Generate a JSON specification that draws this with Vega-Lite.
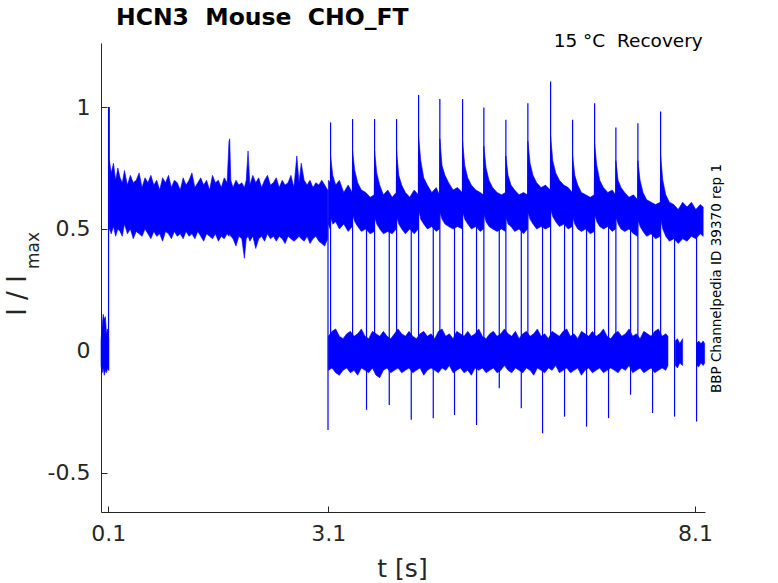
{
  "$schema": "https://vega.github.io/schema/vega-lite/v6.json",
  "width": 604,
  "height": 469,
  "autosize": {"type": "none"},
  "padding": {"left": 101, "top": 43, "right": 73, "bottom": 71},
  "background": "white",
  "config": {
    "view": {"stroke": null},
    "font": "DejaVu Sans",
    "axis": {
      "grid": false,
      "domainColor": "#262626",
      "tickColor": "#262626",
      "labelColor": "#262626",
      "titleColor": "#262626",
      "labelFont": "DejaVu Sans",
      "titleFont": "DejaVu Sans",
      "labelFontSize": 22,
      "titleFontWeight": "normal"
    }
  },
  "title": {
    "text": "HCN3\u00a0\u00a0Mouse\u00a0\u00a0CHO_FT",
    "anchor": "start",
    "dx": 112,
    "dy": 23,
    "offset": 6,
    "baseline": "alphabetic",
    "fontSize": 23.5,
    "fontWeight": "bold",
    "color": "#000000",
    "font": "DejaVu Sans"
  },
  "datasets": {
    "bands": [
      {"seg": "L0", "t": 0.0, "lo": -0.06, "hi": 0.04},
      {"seg": "L0", "t": 0.015, "lo": -0.09, "hi": 0.1},
      {"seg": "L0", "t": 0.03, "lo": -0.07, "hi": 0.15},
      {"seg": "L0", "t": 0.045, "lo": -0.1, "hi": 0.13},
      {"seg": "L0", "t": 0.06, "lo": -0.08, "hi": 0.14},
      {"seg": "L0", "t": 0.075, "lo": -0.09, "hi": 0.07},
      {"seg": "L0", "t": 0.09, "lo": -0.07, "hi": 0.09},
      {"seg": "L0", "t": 0.105, "lo": -0.08, "hi": 0.05},

      {"seg": "A", "t": 0.115, "lo": 0.5, "hi": 0.78},
      {"seg": "A", "t": 0.14, "lo": 0.48, "hi": 0.73},
      {"seg": "A", "t": 0.17, "lo": 0.51, "hi": 0.77},
      {"seg": "A", "t": 0.2, "lo": 0.47, "hi": 0.7},
      {"seg": "A", "t": 0.23, "lo": 0.5, "hi": 0.75},
      {"seg": "A", "t": 0.26, "lo": 0.49, "hi": 0.71},
      {"seg": "A", "t": 0.29, "lo": 0.47, "hi": 0.69},
      {"seg": "A", "t": 0.32, "lo": 0.52, "hi": 0.74},
      {"seg": "A", "t": 0.36, "lo": 0.48, "hi": 0.68},
      {"seg": "A", "t": 0.4, "lo": 0.5, "hi": 0.72},
      {"seg": "A", "t": 0.44, "lo": 0.46, "hi": 0.69},
      {"seg": "A", "t": 0.48, "lo": 0.49, "hi": 0.7},
      {"seg": "A", "t": 0.52, "lo": 0.48, "hi": 0.73},
      {"seg": "A", "t": 0.56, "lo": 0.47, "hi": 0.67},
      {"seg": "A", "t": 0.6, "lo": 0.5, "hi": 0.71},
      {"seg": "A", "t": 0.64, "lo": 0.48, "hi": 0.69},
      {"seg": "A", "t": 0.68, "lo": 0.46, "hi": 0.72},
      {"seg": "A", "t": 0.72, "lo": 0.49, "hi": 0.68},
      {"seg": "A", "t": 0.76, "lo": 0.47, "hi": 0.7},
      {"seg": "A", "t": 0.8, "lo": 0.48, "hi": 0.66},
      {"seg": "A", "t": 0.84, "lo": 0.45, "hi": 0.71},
      {"seg": "A", "t": 0.88, "lo": 0.49, "hi": 0.69},
      {"seg": "A", "t": 0.92, "lo": 0.48, "hi": 0.72},
      {"seg": "A", "t": 0.96, "lo": 0.46, "hi": 0.67},
      {"seg": "A", "t": 1.0, "lo": 0.49, "hi": 0.7},
      {"seg": "A", "t": 1.04, "lo": 0.47, "hi": 0.69},
      {"seg": "A", "t": 1.08, "lo": 0.48, "hi": 0.66},
      {"seg": "A", "t": 1.12, "lo": 0.46, "hi": 0.71},
      {"seg": "A", "t": 1.16, "lo": 0.49, "hi": 0.68},
      {"seg": "A", "t": 1.2, "lo": 0.47, "hi": 0.7},
      {"seg": "A", "t": 1.24, "lo": 0.48, "hi": 0.73},
      {"seg": "A", "t": 1.28, "lo": 0.46, "hi": 0.67},
      {"seg": "A", "t": 1.32, "lo": 0.49, "hi": 0.69},
      {"seg": "A", "t": 1.36, "lo": 0.47, "hi": 0.71},
      {"seg": "A", "t": 1.4, "lo": 0.45, "hi": 0.68},
      {"seg": "A", "t": 1.44, "lo": 0.48, "hi": 0.7},
      {"seg": "A", "t": 1.48, "lo": 0.47, "hi": 0.66},
      {"seg": "A", "t": 1.52, "lo": 0.46, "hi": 0.72},
      {"seg": "A", "t": 1.56, "lo": 0.48, "hi": 0.69},
      {"seg": "A", "t": 1.6, "lo": 0.45, "hi": 0.7},
      {"seg": "A", "t": 1.64, "lo": 0.47, "hi": 0.67},
      {"seg": "A", "t": 1.68, "lo": 0.46, "hi": 0.71},
      {"seg": "A", "t": 1.72, "lo": 0.48, "hi": 0.69},
      {"seg": "A", "t": 1.745, "lo": 0.47, "hi": 0.86},
      {"seg": "A", "t": 1.755, "lo": 0.48, "hi": 0.87},
      {"seg": "A", "t": 1.77, "lo": 0.47, "hi": 0.7},
      {"seg": "A", "t": 1.8, "lo": 0.46, "hi": 0.67},
      {"seg": "A", "t": 1.84, "lo": 0.43, "hi": 0.7},
      {"seg": "A", "t": 1.88, "lo": 0.47, "hi": 0.68},
      {"seg": "A", "t": 1.92, "lo": 0.46, "hi": 0.69},
      {"seg": "A", "t": 1.955, "lo": 0.38, "hi": 0.67},
      {"seg": "A", "t": 1.98, "lo": 0.46, "hi": 0.7},
      {"seg": "A", "t": 2.005, "lo": 0.47, "hi": 0.82},
      {"seg": "A", "t": 2.03, "lo": 0.45, "hi": 0.68},
      {"seg": "A", "t": 2.07, "lo": 0.47, "hi": 0.72},
      {"seg": "A", "t": 2.11, "lo": 0.42, "hi": 0.69},
      {"seg": "A", "t": 2.15, "lo": 0.46, "hi": 0.71},
      {"seg": "A", "t": 2.19, "lo": 0.47, "hi": 0.67},
      {"seg": "A", "t": 2.23, "lo": 0.45, "hi": 0.7},
      {"seg": "A", "t": 2.27, "lo": 0.48, "hi": 0.72},
      {"seg": "A", "t": 2.31, "lo": 0.46, "hi": 0.68},
      {"seg": "A", "t": 2.35, "lo": 0.47, "hi": 0.69},
      {"seg": "A", "t": 2.39, "lo": 0.45, "hi": 0.71},
      {"seg": "A", "t": 2.43, "lo": 0.47, "hi": 0.67},
      {"seg": "A", "t": 2.47, "lo": 0.46, "hi": 0.7},
      {"seg": "A", "t": 2.51, "lo": 0.44, "hi": 0.68},
      {"seg": "A", "t": 2.55, "lo": 0.47, "hi": 0.69},
      {"seg": "A", "t": 2.59, "lo": 0.46, "hi": 0.72},
      {"seg": "A", "t": 2.63, "lo": 0.45, "hi": 0.67},
      {"seg": "A", "t": 2.67, "lo": 0.46, "hi": 0.8},
      {"seg": "A", "t": 2.7, "lo": 0.47, "hi": 0.69},
      {"seg": "A", "t": 2.73, "lo": 0.46, "hi": 0.77},
      {"seg": "A", "t": 2.77, "lo": 0.45, "hi": 0.7},
      {"seg": "A", "t": 2.81, "lo": 0.47, "hi": 0.68},
      {"seg": "A", "t": 2.85, "lo": 0.44, "hi": 0.7},
      {"seg": "A", "t": 2.89, "lo": 0.46, "hi": 0.67},
      {"seg": "A", "t": 2.93, "lo": 0.47, "hi": 0.69},
      {"seg": "A", "t": 2.97, "lo": 0.45, "hi": 0.68},
      {"seg": "A", "t": 3.01, "lo": 0.44, "hi": 0.7},
      {"seg": "A", "t": 3.05, "lo": 0.43, "hi": 0.68},
      {"seg": "A", "t": 3.09, "lo": 0.46, "hi": 0.66},

      {"seg": "U", "t": 3.1, "lo": 0.52, "hi": 0.7},
      {"seg": "U", "t": 3.125, "lo": 0.5, "hi": 0.69},
      {"seg": "U", "t": 3.13, "lo": 0.55, "hi": 0.8},
      {"seg": "U", "t": 3.16, "lo": 0.52, "hi": 0.72},
      {"seg": "U", "t": 3.2, "lo": 0.53, "hi": 0.68},
      {"seg": "U", "t": 3.25, "lo": 0.5, "hi": 0.7},
      {"seg": "U", "t": 3.31, "lo": 0.52, "hi": 0.65},
      {"seg": "U", "t": 3.37, "lo": 0.49, "hi": 0.68},
      {"seg": "U", "t": 3.425, "lo": 0.51, "hi": 0.65},
      {"seg": "U", "t": 3.43, "lo": 0.56, "hi": 0.82},
      {"seg": "U", "t": 3.46, "lo": 0.53, "hi": 0.74},
      {"seg": "U", "t": 3.5, "lo": 0.51, "hi": 0.69},
      {"seg": "U", "t": 3.55, "lo": 0.49, "hi": 0.66},
      {"seg": "U", "t": 3.61, "lo": 0.5, "hi": 0.65},
      {"seg": "U", "t": 3.67, "lo": 0.48, "hi": 0.63},
      {"seg": "U", "t": 3.725, "lo": 0.49, "hi": 0.64},
      {"seg": "U", "t": 3.73, "lo": 0.55, "hi": 0.82},
      {"seg": "U", "t": 3.76, "lo": 0.52, "hi": 0.73},
      {"seg": "U", "t": 3.8, "lo": 0.5, "hi": 0.68},
      {"seg": "U", "t": 3.85, "lo": 0.48, "hi": 0.64},
      {"seg": "U", "t": 3.91, "lo": 0.49, "hi": 0.66},
      {"seg": "U", "t": 3.97, "lo": 0.48, "hi": 0.63},
      {"seg": "U", "t": 4.025, "lo": 0.5, "hi": 0.65},
      {"seg": "U", "t": 4.03, "lo": 0.55, "hi": 0.82},
      {"seg": "U", "t": 4.06, "lo": 0.52, "hi": 0.72},
      {"seg": "U", "t": 4.1, "lo": 0.5, "hi": 0.68},
      {"seg": "U", "t": 4.15, "lo": 0.48, "hi": 0.65},
      {"seg": "U", "t": 4.21, "lo": 0.5, "hi": 0.63},
      {"seg": "U", "t": 4.27, "lo": 0.48, "hi": 0.66},
      {"seg": "U", "t": 4.325, "lo": 0.5, "hi": 0.64},
      {"seg": "U", "t": 4.33, "lo": 0.58, "hi": 0.88},
      {"seg": "U", "t": 4.36, "lo": 0.54, "hi": 0.78},
      {"seg": "U", "t": 4.4, "lo": 0.52, "hi": 0.71},
      {"seg": "U", "t": 4.45, "lo": 0.5, "hi": 0.68},
      {"seg": "U", "t": 4.51, "lo": 0.51, "hi": 0.65},
      {"seg": "U", "t": 4.57, "lo": 0.49, "hi": 0.67},
      {"seg": "U", "t": 4.615, "lo": 0.5, "hi": 0.64},
      {"seg": "U", "t": 4.62, "lo": 0.57, "hi": 0.87},
      {"seg": "U", "t": 4.65, "lo": 0.54, "hi": 0.76},
      {"seg": "U", "t": 4.69, "lo": 0.52, "hi": 0.72},
      {"seg": "U", "t": 4.74, "lo": 0.51, "hi": 0.69},
      {"seg": "U", "t": 4.8, "lo": 0.5, "hi": 0.66},
      {"seg": "U", "t": 4.86, "lo": 0.51, "hi": 0.67},
      {"seg": "U", "t": 4.925, "lo": 0.5, "hi": 0.65},
      {"seg": "U", "t": 4.93, "lo": 0.57, "hi": 0.86},
      {"seg": "U", "t": 4.96, "lo": 0.54, "hi": 0.76},
      {"seg": "U", "t": 5.0, "lo": 0.52, "hi": 0.71},
      {"seg": "U", "t": 5.05, "lo": 0.5, "hi": 0.68},
      {"seg": "U", "t": 5.11, "lo": 0.51, "hi": 0.66},
      {"seg": "U", "t": 5.17, "lo": 0.49, "hi": 0.65},
      {"seg": "U", "t": 5.215, "lo": 0.5, "hi": 0.64},
      {"seg": "U", "t": 5.22, "lo": 0.56, "hi": 0.84},
      {"seg": "U", "t": 5.25, "lo": 0.53, "hi": 0.75},
      {"seg": "U", "t": 5.29, "lo": 0.51, "hi": 0.7},
      {"seg": "U", "t": 5.34, "lo": 0.5, "hi": 0.67},
      {"seg": "U", "t": 5.4, "lo": 0.49, "hi": 0.65},
      {"seg": "U", "t": 5.46, "lo": 0.5, "hi": 0.64},
      {"seg": "U", "t": 5.515, "lo": 0.49, "hi": 0.65},
      {"seg": "U", "t": 5.52, "lo": 0.55, "hi": 0.8},
      {"seg": "U", "t": 5.55, "lo": 0.52, "hi": 0.72},
      {"seg": "U", "t": 5.59, "lo": 0.51, "hi": 0.68},
      {"seg": "U", "t": 5.64, "lo": 0.49, "hi": 0.66},
      {"seg": "U", "t": 5.7, "lo": 0.5, "hi": 0.64},
      {"seg": "U", "t": 5.76, "lo": 0.48, "hi": 0.65},
      {"seg": "U", "t": 5.815, "lo": 0.5, "hi": 0.64},
      {"seg": "U", "t": 5.82, "lo": 0.57, "hi": 0.86},
      {"seg": "U", "t": 5.85, "lo": 0.54, "hi": 0.77},
      {"seg": "U", "t": 5.89, "lo": 0.52, "hi": 0.72},
      {"seg": "U", "t": 5.94, "lo": 0.5, "hi": 0.69},
      {"seg": "U", "t": 6.0, "lo": 0.51, "hi": 0.67},
      {"seg": "U", "t": 6.06, "lo": 0.5, "hi": 0.68},
      {"seg": "U", "t": 6.125, "lo": 0.51, "hi": 0.66},
      {"seg": "U", "t": 6.13, "lo": 0.58, "hi": 0.88},
      {"seg": "U", "t": 6.16, "lo": 0.55, "hi": 0.78},
      {"seg": "U", "t": 6.2, "lo": 0.53, "hi": 0.73},
      {"seg": "U", "t": 6.25, "lo": 0.51, "hi": 0.7},
      {"seg": "U", "t": 6.31, "lo": 0.52, "hi": 0.68},
      {"seg": "U", "t": 6.37, "lo": 0.5, "hi": 0.67},
      {"seg": "U", "t": 6.425, "lo": 0.51, "hi": 0.65},
      {"seg": "U", "t": 6.43, "lo": 0.55, "hi": 0.8},
      {"seg": "U", "t": 6.46, "lo": 0.52, "hi": 0.72},
      {"seg": "U", "t": 6.5, "lo": 0.5, "hi": 0.68},
      {"seg": "U", "t": 6.55, "lo": 0.49, "hi": 0.65},
      {"seg": "U", "t": 6.61, "lo": 0.5, "hi": 0.64},
      {"seg": "U", "t": 6.67, "lo": 0.48, "hi": 0.63},
      {"seg": "U", "t": 6.725, "lo": 0.49, "hi": 0.64},
      {"seg": "U", "t": 6.73, "lo": 0.56, "hi": 0.85},
      {"seg": "U", "t": 6.76, "lo": 0.53, "hi": 0.76},
      {"seg": "U", "t": 6.8, "lo": 0.51, "hi": 0.7},
      {"seg": "U", "t": 6.85, "lo": 0.5, "hi": 0.67},
      {"seg": "U", "t": 6.91, "lo": 0.51, "hi": 0.65},
      {"seg": "U", "t": 6.97, "lo": 0.49, "hi": 0.66},
      {"seg": "U", "t": 7.015, "lo": 0.5, "hi": 0.64},
      {"seg": "U", "t": 7.02, "lo": 0.55, "hi": 0.78},
      {"seg": "U", "t": 7.05, "lo": 0.52, "hi": 0.7},
      {"seg": "U", "t": 7.09, "lo": 0.5, "hi": 0.67},
      {"seg": "U", "t": 7.14, "lo": 0.49, "hi": 0.65},
      {"seg": "U", "t": 7.2, "lo": 0.5, "hi": 0.63},
      {"seg": "U", "t": 7.26, "lo": 0.48, "hi": 0.64},
      {"seg": "U", "t": 7.315, "lo": 0.47, "hi": 0.62},
      {"seg": "U", "t": 7.32, "lo": 0.54, "hi": 0.78},
      {"seg": "U", "t": 7.35, "lo": 0.51, "hi": 0.7},
      {"seg": "U", "t": 7.39, "lo": 0.49, "hi": 0.65},
      {"seg": "U", "t": 7.44, "lo": 0.47, "hi": 0.62},
      {"seg": "U", "t": 7.5, "lo": 0.48, "hi": 0.61},
      {"seg": "U", "t": 7.56, "lo": 0.46, "hi": 0.6},
      {"seg": "U", "t": 7.625, "lo": 0.47, "hi": 0.61},
      {"seg": "U", "t": 7.63, "lo": 0.54, "hi": 0.8},
      {"seg": "U", "t": 7.66, "lo": 0.5, "hi": 0.7},
      {"seg": "U", "t": 7.7, "lo": 0.47, "hi": 0.64},
      {"seg": "U", "t": 7.75, "lo": 0.45, "hi": 0.61},
      {"seg": "U", "t": 7.81, "lo": 0.46, "hi": 0.6},
      {"seg": "U", "t": 7.87, "lo": 0.44, "hi": 0.58},
      {"seg": "U", "t": 7.93, "lo": 0.46, "hi": 0.61},
      {"seg": "U", "t": 7.99, "lo": 0.45, "hi": 0.59},
      {"seg": "U", "t": 8.05, "lo": 0.47, "hi": 0.61},
      {"seg": "U", "t": 8.11, "lo": 0.46, "hi": 0.58},
      {"seg": "U", "t": 8.17, "lo": 0.48, "hi": 0.6},
      {"seg": "U", "t": 8.21, "lo": 0.47, "hi": 0.59},

      {"seg": "L", "t": 3.1, "lo": -0.08, "hi": 0.06},
      {"seg": "L", "t": 3.15, "lo": -0.07, "hi": 0.08},
      {"seg": "L", "t": 3.2, "lo": -0.09, "hi": 0.09},
      {"seg": "L", "t": 3.25, "lo": -0.1, "hi": 0.06},
      {"seg": "L", "t": 3.3, "lo": -0.08, "hi": 0.05},
      {"seg": "L", "t": 3.35, "lo": -0.07, "hi": 0.07},
      {"seg": "L", "t": 3.4, "lo": -0.09, "hi": 0.08},
      {"seg": "L", "t": 3.45, "lo": -0.08, "hi": 0.06},
      {"seg": "L", "t": 3.5, "lo": -0.1, "hi": 0.07},
      {"seg": "L", "t": 3.55, "lo": -0.07, "hi": 0.09},
      {"seg": "L", "t": 3.6, "lo": -0.08, "hi": 0.06},
      {"seg": "L", "t": 3.65, "lo": -0.09, "hi": 0.05},
      {"seg": "L", "t": 3.7, "lo": -0.07, "hi": 0.08},
      {"seg": "L", "t": 3.75, "lo": -0.1, "hi": 0.07},
      {"seg": "L", "t": 3.8, "lo": -0.11, "hi": 0.06},
      {"seg": "L", "t": 3.85, "lo": -0.08, "hi": 0.08},
      {"seg": "L", "t": 3.9, "lo": -0.07, "hi": 0.06},
      {"seg": "L", "t": 3.95, "lo": -0.09, "hi": 0.05},
      {"seg": "L", "t": 4.0, "lo": -0.08, "hi": 0.07},
      {"seg": "L", "t": 4.05, "lo": -0.07, "hi": 0.09},
      {"seg": "L", "t": 4.1, "lo": -0.09, "hi": 0.07},
      {"seg": "L", "t": 4.15, "lo": -0.08, "hi": 0.06},
      {"seg": "L", "t": 4.2, "lo": -0.07, "hi": 0.08},
      {"seg": "L", "t": 4.25, "lo": -0.09, "hi": 0.06},
      {"seg": "L", "t": 4.3, "lo": -0.08, "hi": 0.05},
      {"seg": "L", "t": 4.35, "lo": -0.07, "hi": 0.07},
      {"seg": "L", "t": 4.4, "lo": -0.1, "hi": 0.08},
      {"seg": "L", "t": 4.45, "lo": -0.08, "hi": 0.06},
      {"seg": "L", "t": 4.5, "lo": -0.07, "hi": 0.07},
      {"seg": "L", "t": 4.55, "lo": -0.08, "hi": 0.05},
      {"seg": "L", "t": 4.6, "lo": -0.09, "hi": 0.08},
      {"seg": "L", "t": 4.65, "lo": -0.07, "hi": 0.09},
      {"seg": "L", "t": 4.7, "lo": -0.08, "hi": 0.06},
      {"seg": "L", "t": 4.75, "lo": -0.06, "hi": 0.07},
      {"seg": "L", "t": 4.8, "lo": -0.09, "hi": 0.05},
      {"seg": "L", "t": 4.85, "lo": -0.08, "hi": 0.08},
      {"seg": "L", "t": 4.9, "lo": -0.07, "hi": 0.07},
      {"seg": "L", "t": 4.95, "lo": -0.09, "hi": 0.06},
      {"seg": "L", "t": 5.0, "lo": -0.08, "hi": 0.08},
      {"seg": "L", "t": 5.05, "lo": -0.1, "hi": 0.06},
      {"seg": "L", "t": 5.1, "lo": -0.07, "hi": 0.07},
      {"seg": "L", "t": 5.15, "lo": -0.08, "hi": 0.09},
      {"seg": "L", "t": 5.2, "lo": -0.07, "hi": 0.06},
      {"seg": "L", "t": 5.25, "lo": -0.09, "hi": 0.05},
      {"seg": "L", "t": 5.3, "lo": -0.08, "hi": 0.07},
      {"seg": "L", "t": 5.35, "lo": -0.07, "hi": 0.08},
      {"seg": "L", "t": 5.4, "lo": -0.09, "hi": 0.06},
      {"seg": "L", "t": 5.45, "lo": -0.08, "hi": 0.07},
      {"seg": "L", "t": 5.5, "lo": -0.06, "hi": 0.09},
      {"seg": "L", "t": 5.55, "lo": -0.08, "hi": 0.07},
      {"seg": "L", "t": 5.6, "lo": -0.09, "hi": 0.06},
      {"seg": "L", "t": 5.65, "lo": -0.07, "hi": 0.08},
      {"seg": "L", "t": 5.7, "lo": -0.08, "hi": 0.05},
      {"seg": "L", "t": 5.75, "lo": -0.09, "hi": 0.07},
      {"seg": "L", "t": 5.8, "lo": -0.07, "hi": 0.08},
      {"seg": "L", "t": 5.85, "lo": -0.08, "hi": 0.06},
      {"seg": "L", "t": 5.9, "lo": -0.1, "hi": 0.07},
      {"seg": "L", "t": 5.95, "lo": -0.07, "hi": 0.09},
      {"seg": "L", "t": 6.0, "lo": -0.08, "hi": 0.06},
      {"seg": "L", "t": 6.05, "lo": -0.09, "hi": 0.07},
      {"seg": "L", "t": 6.1, "lo": -0.07, "hi": 0.05},
      {"seg": "L", "t": 6.15, "lo": -0.08, "hi": 0.08},
      {"seg": "L", "t": 6.2, "lo": -0.06, "hi": 0.07},
      {"seg": "L", "t": 6.25, "lo": -0.09, "hi": 0.06},
      {"seg": "L", "t": 6.3, "lo": -0.08, "hi": 0.08},
      {"seg": "L", "t": 6.35, "lo": -0.07, "hi": 0.09},
      {"seg": "L", "t": 6.4, "lo": -0.09, "hi": 0.06},
      {"seg": "L", "t": 6.45, "lo": -0.08, "hi": 0.07},
      {"seg": "L", "t": 6.5, "lo": -0.07, "hi": 0.05},
      {"seg": "L", "t": 6.55, "lo": -0.1, "hi": 0.08},
      {"seg": "L", "t": 6.6, "lo": -0.08, "hi": 0.07},
      {"seg": "L", "t": 6.65, "lo": -0.07, "hi": 0.06},
      {"seg": "L", "t": 6.7, "lo": -0.09, "hi": 0.08},
      {"seg": "L", "t": 6.75, "lo": -0.08, "hi": 0.06},
      {"seg": "L", "t": 6.8, "lo": -0.07, "hi": 0.07},
      {"seg": "L", "t": 6.85, "lo": -0.09, "hi": 0.09},
      {"seg": "L", "t": 6.9, "lo": -0.08, "hi": 0.06},
      {"seg": "L", "t": 6.95, "lo": -0.07, "hi": 0.05},
      {"seg": "L", "t": 7.0, "lo": -0.08, "hi": 0.07},
      {"seg": "L", "t": 7.05, "lo": -0.09, "hi": 0.08},
      {"seg": "L", "t": 7.1, "lo": -0.07, "hi": 0.06},
      {"seg": "L", "t": 7.15, "lo": -0.08, "hi": 0.07},
      {"seg": "L", "t": 7.2, "lo": -0.06, "hi": 0.09},
      {"seg": "L", "t": 7.25, "lo": -0.09, "hi": 0.06},
      {"seg": "L", "t": 7.3, "lo": -0.08, "hi": 0.07},
      {"seg": "L", "t": 7.35, "lo": -0.07, "hi": 0.05},
      {"seg": "L", "t": 7.4, "lo": -0.09, "hi": 0.08},
      {"seg": "L", "t": 7.45, "lo": -0.08, "hi": 0.07},
      {"seg": "L", "t": 7.5, "lo": -0.07, "hi": 0.06},
      {"seg": "L", "t": 7.55, "lo": -0.09, "hi": 0.08},
      {"seg": "L", "t": 7.6, "lo": -0.08, "hi": 0.09},
      {"seg": "L", "t": 7.65, "lo": -0.07, "hi": 0.06},
      {"seg": "L", "t": 7.7, "lo": -0.08, "hi": 0.07},
      {"seg": "L", "t": 7.73, "lo": -0.06, "hi": 0.06},

      {"seg": "L2", "t": 7.83, "lo": -0.06, "hi": 0.04},
      {"seg": "L2", "t": 7.86, "lo": -0.07, "hi": 0.05},
      {"seg": "L2", "t": 7.89, "lo": -0.05, "hi": 0.03},
      {"seg": "L2", "t": 7.93, "lo": -0.06, "hi": 0.05},

      {"seg": "L3", "t": 8.12, "lo": -0.06, "hi": 0.03},
      {"seg": "L3", "t": 8.15, "lo": -0.065, "hi": 0.04},
      {"seg": "L3", "t": 8.18, "lo": -0.05, "hi": 0.03},
      {"seg": "L3", "t": 8.21, "lo": -0.06, "hi": 0.04},
      {"seg": "L3", "t": 8.23, "lo": -0.05, "hi": 0.03}
    ],
    "rules": [
      {"t": 0.103, "a": -0.08, "b": 1.0},
      {"t": 0.112, "a": 0.5, "b": 1.0},
      {"t": 3.095, "a": -0.325, "b": 0.66},
      {"t": 3.13, "a": 0.05, "b": 0.937},
      {"t": 3.43, "a": 0.05, "b": 0.951},
      {"t": 3.73, "a": 0.05, "b": 0.951},
      {"t": 4.03, "a": 0.05, "b": 0.951},
      {"t": 4.33, "a": 0.05, "b": 1.05},
      {"t": 4.62, "a": 0.05, "b": 1.033},
      {"t": 4.93, "a": 0.05, "b": 1.033},
      {"t": 5.22, "a": 0.05, "b": 0.998},
      {"t": 5.52, "a": 0.05, "b": 0.948},
      {"t": 5.82, "a": 0.05, "b": 1.016},
      {"t": 6.13, "a": 0.05, "b": 1.105},
      {"t": 6.43, "a": 0.05, "b": 0.948},
      {"t": 6.73, "a": 0.05, "b": 1.016},
      {"t": 7.02, "a": 0.05, "b": 0.916},
      {"t": 7.32, "a": 0.05, "b": 0.934},
      {"t": 7.63, "a": 0.05, "b": 0.982},
      {"t": 3.62, "a": -0.242, "b": 0.52},
      {"t": 3.93, "a": -0.222, "b": 0.52},
      {"t": 4.23, "a": -0.283, "b": 0.52},
      {"t": 4.53, "a": -0.276, "b": 0.52},
      {"t": 4.82, "a": -0.263, "b": 0.52},
      {"t": 5.12, "a": -0.304, "b": 0.52},
      {"t": 5.43, "a": -0.153, "b": 0.52},
      {"t": 5.73, "a": -0.235, "b": 0.52},
      {"t": 6.02, "a": -0.338, "b": 0.52},
      {"t": 6.32, "a": -0.27, "b": 0.52},
      {"t": 6.62, "a": -0.311, "b": 0.52},
      {"t": 6.92, "a": -0.276, "b": 0.52},
      {"t": 7.22, "a": -0.18, "b": 0.52},
      {"t": 7.52, "a": -0.255, "b": 0.52},
      {"t": 7.82, "a": -0.27, "b": 0.52},
      {"t": 8.12, "a": -0.29, "b": 0.52}
    ]
  },
  "layer": [
    {
      "data": {"name": "bands"},
      "mark": {"type": "area", "color": "#0000ff", "opacity": 1, "stroke": "#0000ff", "strokeWidth": 0.6},
      "encoding": {
        "x": {
          "field": "t",
          "type": "quantitative",
          "scale": {"domain": [0, 8.235], "nice": false, "zero": false},
          "axis": {
            "values": [0.1, 3.1, 8.1],
            "format": ".1f",
            "title": "t [s]",
            "titleFontSize": 25,
            "titleX": 301,
            "titleY": 64,
            "titleAlign": "center",
            "titleBaseline": "alphabetic",
            "tickSize": -6,
            "labelPadding": 17
          }
        },
        "y": {
          "field": "lo",
          "type": "quantitative",
          "scale": {"domain": [-0.661, 1.263], "nice": false, "zero": false},
          "axis": {
            "values": [-0.5, 0, 0.5, 1],
            "format": "~g",
            "labelExpr": "replace(datum.label, '\u2212', '-')",
            "title": "I / I",
            "titleFontSize": 26,
            "titleAngle": 270,
            "titleX": -76,
            "titleY": 252,
            "titleAlign": "center",
            "titleBaseline": "alphabetic",
            "tickSize": -6,
            "labelPadding": 17
          }
        },
        "y2": {"field": "hi"},
        "detail": {"field": "seg"}
      }
    },
    {
      "data": {"name": "rules"},
      "mark": {"type": "rule", "color": "#0000ff", "strokeWidth": 1.2},
      "encoding": {
        "x": {"field": "t", "type": "quantitative"},
        "y": {
          "field": "a",
          "type": "quantitative",
          "scale": {"domain": [-0.661, 1.263], "nice": false, "zero": false},
          "axis": {
            "orient": "right",
            "title": "BBP Channelpedia ID 39370 rep 1",
            "titleFontSize": 13.5,
            "titleColor": "#000000",
            "titleAngle": 270,
            "titleX": 15,
            "titleY": 235,
            "titleAlign": "center",
            "titleBaseline": "alphabetic",
            "labels": false,
            "ticks": false,
            "domain": false
          }
        },
        "y2": {"field": "b"}
      }
    },
    {
      "data": {"values": [{}]},
      "mark": {
        "type": "text",
        "align": "right",
        "baseline": "alphabetic",
        "fontSize": 18.5,
        "font": "DejaVu Sans",
        "color": "#000000"
      },
      "encoding": {
        "x": {"datum": 8.205, "type": "quantitative"},
        "y": {
          "datum": 1.247,
          "type": "quantitative",
          "axis": {
            "orient": "left",
            "title": "max",
            "titleFontSize": 17,
            "titleAngle": 270,
            "titleX": -63,
            "titleY": 207,
            "titleAlign": "center",
            "titleBaseline": "alphabetic",
            "labels": false,
            "ticks": false,
            "domain": false
          }
        },
        "text": {"value": "15 °C\u00a0\u00a0Recovery"}
      }
    }
  ],
  "resolve": {"axis": {"y": "independent"}}
}
